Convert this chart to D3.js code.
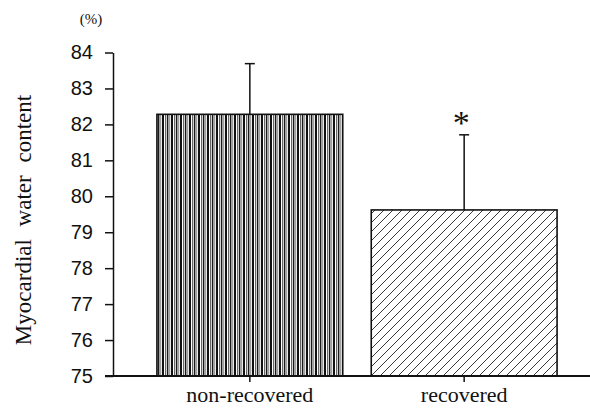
<!DOCTYPE html>
<html>
<head>
<meta charset="utf-8">
<script src="https://cdn.jsdelivr.net/npm/d3@7"></script>
<style>
  body { margin: 0; background: #fff; }
  svg { display: block; }
</style>
</head>
<body>
<div id="chart"></div>
<script>
const categories = ["non-recovered", "recovered"];
const means = [82.28, 79.62];
const errors = [1.41, 2.09];
const significant = [false, true];
const yTicks = [75, 76, 77, 78, 79, 80, 81, 82, 83, 84];

const WIDTH = 590, HEIGHT = 408;

const svg = d3.select("#chart")
  .append("svg")
  .attr("width", WIDTH)
  .attr("height", HEIGHT);

const defs = svg.append("defs");

// dense vertical stripes for the first bar
const vp = defs.append("pattern")
  .attr("id", "vstripe")
  .attr("patternUnits", "userSpaceOnUse")
  .attr("width", 9)
  .attr("height", 9);
vp.append("rect").attr("width", 9).attr("height", 9).attr("fill", "#fff");
vp.append("rect").attr("x", 0).attr("width", 2).attr("height", 9).attr("fill", "#111");
vp.append("rect").attr("x", 3).attr("width", 1).attr("height", 9).attr("fill", "#666");
vp.append("rect").attr("x", 4.8).attr("width", 1.6).attr("height", 9).attr("fill", "#1a1a1a");
vp.append("rect").attr("x", 7.2).attr("width", 1).attr("height", 9).attr("fill", "#888");

// diagonal hatch for the second bar
const dp = defs.append("pattern")
  .attr("id", "hatch")
  .attr("patternUnits", "userSpaceOnUse")
  .attr("width", 9)
  .attr("height", 9);
dp.append("path")
  .attr("d", "M0,9 L9,0 M-2,2 L2,-2 M7,11 L11,7")
  .attr("stroke", "#222")
  .attr("stroke-width", 0.9);

const x = d3.scaleBand()
  .domain(categories)
  .range([113, 601])
  .paddingInner(0.133)
  .paddingOuter(0.205);

const y = d3.scaleLinear()
  .domain([75, 84])
  .range([376, 52.5]);

// y axis
const yAxis = svg.append("g")
  .attr("transform", "translate(113,0)")
  .call(d3.axisLeft(y).tickValues(yTicks).tickSize(8).tickSizeOuter(0).tickPadding(12))
  .call(g => g.select(".domain").attr("stroke", "#111").attr("stroke-width", 1.5));
yAxis.selectAll(".tick line").attr("stroke", "#111").attr("stroke-width", 1.5);
yAxis.selectAll(".tick text")
  .attr("fill", "#111")
  .style("font-family", "'Liberation Sans', Arial, sans-serif")
  .style("font-size", "20px");

// bars
svg.selectAll(".bar")
  .data(categories)
  .enter()
  .append("rect")
  .attr("class", "bar")
  .attr("x", d => x(d))
  .attr("y", (d, i) => y(means[i]))
  .attr("width", x.bandwidth())
  .attr("height", (d, i) => y(75) - y(means[i]))
  .attr("fill", (d, i) => i === 0 ? "url(#vstripe)" : "url(#hatch)")
  .attr("stroke", "#111")
  .attr("stroke-width", 1.6);

// error bars (upper only)
const eb = svg.selectAll(".err")
  .data(categories)
  .enter()
  .append("g")
  .attr("class", "err")
  .attr("stroke", "#111")
  .attr("stroke-width", 1.5);
eb.append("line")
  .attr("x1", d => x(d) + x.bandwidth() / 2)
  .attr("x2", d => x(d) + x.bandwidth() / 2)
  .attr("y1", (d, i) => y(means[i]))
  .attr("y2", (d, i) => y(means[i] + errors[i]));
eb.append("line")
  .attr("x1", d => x(d) + x.bandwidth() / 2 - 5)
  .attr("x2", d => x(d) + x.bandwidth() / 2 + 5)
  .attr("y1", (d, i) => y(means[i] + errors[i]))
  .attr("y2", (d, i) => y(means[i] + errors[i]));

// significance marks
svg.selectAll(".sig")
  .data(categories.filter((d, i) => significant[i]))
  .enter()
  .append("text")
  .attr("class", "sig")
  .attr("x", d => x(d) + x.bandwidth() / 2 - 3)
  .attr("y", d => y(means[categories.indexOf(d)] + errors[categories.indexOf(d)]) - 1)
  .attr("text-anchor", "middle")
  .style("font-family", "'Liberation Serif', 'Times New Roman', serif")
  .style("font-size", "34px")
  .attr("fill", "#111")
  .text("*");

// x axis
const xAxis = svg.append("g")
  .attr("transform", `translate(0,${y(75)})`)
  .call(d3.axisBottom(x).tickSize(6).tickSizeOuter(0).tickPadding(4))
  .call(g => g.select(".domain").remove());
xAxis.append("line")
  .attr("x1", 105).attr("x2", 590)
  .attr("stroke", "#111").attr("stroke-width", 2);
xAxis.selectAll(".tick line").attr("stroke", "#111").attr("stroke-width", 1.5);
xAxis.selectAll(".tick text")
  .attr("fill", "#111")
  .style("font-family", "'Liberation Serif', 'Times New Roman', serif")
  .style("font-size", "22px");

// axis title
svg.append("text")
  .attr("transform", "translate(31,220) rotate(-90)")
  .attr("text-anchor", "middle")
  .style("font-family", "'Liberation Serif', 'Times New Roman', serif")
  .style("font-size", "23px")
  .style("word-spacing", "7px")
  .attr("fill", "#111")
  .text("Myocardial water content");

svg.append("text")
  .attr("x", 91)
  .attr("y", 24)
  .attr("text-anchor", "middle")
  .style("font-family", "'Liberation Serif', 'Times New Roman', serif")
  .style("font-size", "15px")
  .attr("fill", "#111")
  .text("(%)");
</script>
</body>
</html>
